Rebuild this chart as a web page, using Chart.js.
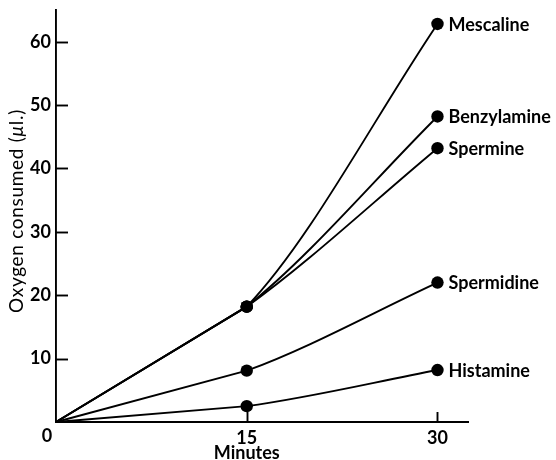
<!DOCTYPE html>
<html>
<head>
<meta charset="utf-8">
<script src="https://cdn.jsdelivr.net/npm/chart.js@4/dist/chart.umd.min.js"></script>
<style>
  html, body { margin: 0; padding: 0; background: #fff; }
  #wrap { width: 556px; height: 460px; position: relative; }
</style>
</head>
<body>
<div id="wrap"><canvas id="c"></canvas></div>
<script>
// Incubation time (minutes) and oxygen uptake (µl.) for each amine substrate
const minutes = [0, 15, 30];
const mescaline = [0, 18.2, 62.8];
const benzylamine = [0, 18.2, 48.2];
const spermine = [0, 18.2, 43.2];
const spermidine = [0, 8.1, 22.0];
const histamine = [0, 2.5, 8.2];

const seriesNames = ['Mescaline', 'Benzylamine', 'Spermine', 'Spermidine', 'Histamine'];
const seriesValues = [mescaline, benzylamine, spermine, spermidine, histamine];

const yTicks = [10, 20, 30, 40, 50, 60];
const xTicks = [15, 30];

const FONT = "Lato, 'DejaVu Sans', sans-serif";
const INK = '#000';

// Curved traces through all readings; the first interval is drawn separately
// as a straight lead-in from the origin.
const curves = seriesNames.map((name, i) => ({
  label: name,
  isCurve: true,
  data: minutes.map((m, j) => ({ x: m, y: seriesValues[i][j] })),
  borderColor: INK,
  borderWidth: 1.9,
  backgroundColor: INK,
  pointBackgroundColor: INK,
  pointBorderWidth: 0,
  pointRadius: minutes.map(m => (m === 0 ? 0 : 6.2)),
  pointHoverRadius: minutes.map(m => (m === 0 ? 0 : 6.2)),
  cubicInterpolationMode: 'monotone',
  segment: { borderColor: ctx => (ctx.p0DataIndex === 0 ? 'rgba(0,0,0,0)' : INK) },
  fill: false,
  clip: false
}));

const leadIns = seriesNames.map((name, i) => ({
  label: name + ' (0-15)',
  isCurve: false,
  data: minutes.slice(0, 2).map((m, j) => ({ x: m, y: seriesValues[i][j] })),
  borderColor: INK,
  borderWidth: 1.9,
  pointRadius: 0,
  pointHoverRadius: 0,
  tension: 0,
  fill: false,
  clip: false
}));

const datasets = leadIns.concat(curves);

// Inward tick marks, origin label, axis titles and end-of-line labels
const annotate = {
  id: 'annotate',
  afterDraw(chart) {
    const ctx = chart.ctx;
    const xs = chart.scales.x, ys = chart.scales.y;
    const area = chart.chartArea;
    ctx.save();
    ctx.strokeStyle = INK;
    ctx.lineWidth = 1.9;
    yTicks.forEach(v => {
      const y = Math.round(ys.getPixelForValue(v)) + 0.5;
      ctx.beginPath();
      ctx.moveTo(area.left, y);
      ctx.lineTo(area.left + 12, y);
      ctx.stroke();
    });
    xTicks.forEach(v => {
      const x = Math.round(xs.getPixelForValue(v)) + 0.5;
      ctx.beginPath();
      ctx.moveTo(x, area.bottom);
      ctx.lineTo(x, area.bottom - 10);
      ctx.stroke();
    });

    ctx.fillStyle = INK;
    ctx.textBaseline = 'middle';

    // shared origin label
    ctx.font = 'bold 18px ' + FONT;
    ctx.textAlign = 'center';
    ctx.fillText('0', xs.getPixelForValue(0) - 9, area.bottom + 14);

    // x axis title under the 15-minute mark
    ctx.fillText('Minutes', xs.getPixelForValue(15), area.bottom + 31);

    // y axis title, rotated, with italic µ
    const t1 = 'Oxygen consumed (', t2 = '\u03BC', t3 = 'l.)';
    const fReg = '19px ' + FONT, fIt = 'italic 19px ' + FONT;
    ctx.letterSpacing = '0.7px';
    ctx.font = fReg; const w1 = ctx.measureText(t1).width, w3 = ctx.measureText(t3).width;
    ctx.font = fIt; const w2 = ctx.measureText(t2).width;
    const total = w1 + w2 + w3;
    ctx.translate(17, (area.top + area.bottom) / 2 - 5);
    ctx.rotate(-Math.PI / 2);
    ctx.textAlign = 'left';
    let px = -total / 2;
    ctx.font = fReg; ctx.fillText(t1, px, 0); px += w1;
    ctx.font = fIt; ctx.fillText(t2, px, 0); px += w2;
    ctx.font = fReg; ctx.fillText(t3, px, 0);
    ctx.setTransform(1, 0, 0, 1, 0, 0);
    ctx.letterSpacing = '0px';

    // series names beside the last point of each curve
    ctx.font = 'bold 18px ' + FONT;
    ctx.textAlign = 'left';
    chart.data.datasets.forEach((ds, i) => {
      if (!ds.isCurve) return;
      const pts = chart.getDatasetMeta(i).data;
      const last = pts[pts.length - 1];
      ctx.fillText(ds.label, last.x + 11, last.y + 1);
    });
    ctx.restore();
  }
};

new Chart(document.getElementById('c'), {
  type: 'line',
  data: { datasets },
  options: {
    responsive: true,
    maintainAspectRatio: false,
    animation: false,
    events: [],
    layout: { padding: { top: 10, right: 88, left: 0, bottom: 0 } },
    plugins: { legend: { display: false }, tooltip: { enabled: false } },
    scales: {
      x: {
        type: 'linear',
        min: 0,
        max: 32.4,
        afterFit(scale) { scale.height = 38; scale.paddingLeft = 0; scale.paddingRight = 0; },
        grid: { display: true, drawOnChartArea: false, drawTicks: false },
        border: { display: true, color: INK, width: 1.9 },
        afterBuildTicks(scale) { scale.ticks = minutes.map(v => ({ value: v })); },
        ticks: {
          color: INK,
          padding: 5,
          font: { family: FONT, size: 18, weight: 'bold' },
          callback: v => (v === 0 ? '' : String(v))
        }
      },
      y: {
        min: 0,
        max: 65,
        afterFit(scale) { scale.width = 56; scale.paddingTop = 0; scale.paddingBottom = 0; },
        grid: { display: true, drawOnChartArea: false, drawTicks: false },
        border: { display: true, color: INK, width: 1.9 },
        afterBuildTicks(scale) { scale.ticks = yTicks.map(v => ({ value: v })); },
        ticks: {
          color: INK,
          padding: 5,
          font: { family: FONT, size: 18, weight: 'bold' }
        }
      }
    }
  },
  plugins: [annotate]
});
</script>
</body>
</html>
